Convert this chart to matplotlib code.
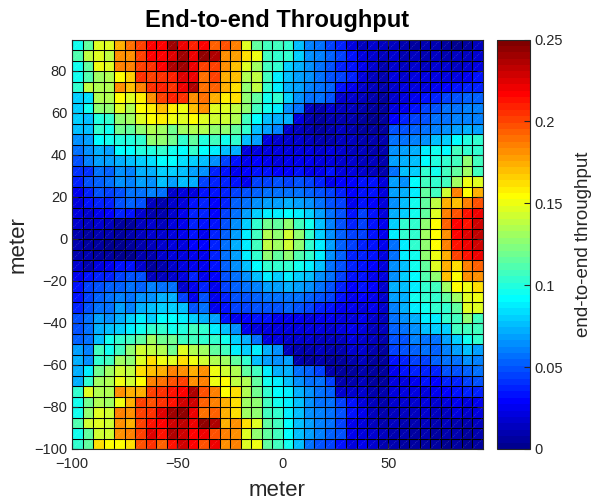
import numpy as np
import matplotlib
matplotlib.use("Agg")
import matplotlib.pyplot as plt
from matplotlib.colors import ListedColormap
from matplotlib.collections import LineCollection

plt.rcParams['font.family'] = ['Liberation Sans', 'DejaVu Sans']

# grid vertices (meters)
x_edges = list(range(-100, 100, 5))
y_edges = list(range(-100, 100, 5))

# throughput values x1000, rows from top (y=90) down to bottom (y=-100),
# columns from x=-100 to x=90 (cell lower-left corners)
throughput_milli = [
    [94,115,145,145,175,190,200,215,215,240,220,210,215, 195,199,187,148,117,109,109,105,78,62,55,43,39, 23,12,16,12,12,8,4,8,8,4,0,4,12],
    [110,140,145,140,180,180,200,215,215,225,240,220,245, 238,180,176,164,152,109,105,102,82,66,62,51,43, 35,23,16,12,16,8,12,8,12,8,12,12,16],
    [95,115,150,145,185,185,200,205,215,235,240,220,200, 200,180,168,145,129,109,102,82,74,66,58,47,39, 35,27,16,8,16,12,16,12,16,16,12,16,23],
    [95,110,130,135,155,165,205,200,205,210,225,220,190, 200,172,168,133,137,109,86,78,70,66,58,47,43, 39,20,12,8,20,16,20,20,20,23,23,27,35],
    [105,140,135,135,180,170,185,205,210,205,220,235,190, 195,172,164,128,137,105,86,74,70,62,55,51,35, 27,16,12,8,16,20,23,23,27,31,35,39,39],
    [80,85,135,135,155,145,160,180,200,210,205,180,190, 172,160,164,128,117,94,105,82,66,58,55,47,16, 16,12,8,4,16,23,27,35,39,43,47,51,51],
    [82,94,125,125,145,135,155,160,170,160,150,170,180, 148,148,137,125,109,94,86,66,58,12,8,16,12, 12,8,4,4,20,27,35,43,47,55,58,62,62],
    [80,78,100,105,125,130,145,155,160,150,145,155,145, 141,141,133,109,90,78,74,74,20,8,5,8,10, 8,4,0,4,31,39,43,47,55,58,62,62,62],
    [78,75,105,95,120,115,125,135,130,120,130,135,135, 125,125,117,105,78,70,62,16,12,8,4,8,12, 8,4,4,4,47,47,51,55,62,66,70,74,70],
    [65,70,90,94,100,98,105,125,125,120,105,115,100, 109,94,105,78,70,23,16,16,16,12,8,8,12, 12,8,8,8,55,55,62,66,78,82,90,98,102],
    [55,65,72,70,90,90,98,98,105,94,90,105,90, 86,78,74,23,20,23,23,20,20,20,16,20,16, 12,12,8,8,66,70,74,86,94,90,109,105,105],
    [47,60,70,68,72,78,80,85,90,90,85,80,78, 66,43,35,27,31,27,23,27,27,27,23,23,16, 16,12,12,8,70,74,78,90,98,102,109,125,109],
    [42,40,55,52,65,60,72,72,80,80,78,70,65, 39,35,27,31,35,35,31,31,35,27,27,35,23, 20,16,12,8,58,78,82,102,94,109,117,129,109],
    [39,47,51,55,66,62,70,66,78,70,78,74,43, 39,39,35,27,43,43,47,43,47,43,39,27,31, 31,35,35,20,70,66,90,109,105,109,129,152,148],
    [27,39,47,43,47,55,58,62,58,16,20,23,35, 35,39,43,47,51,58,55,58,55,51,47,43,39, 31,35,35,20,70,74,86,117,109,141,184,156,172],
    [23,35,39,39,47,51,47,12,8,16,23,35,39, 31,39,51,58,66,70,70,74,70,66,58,47,43, 27,35,31,20,66,78,94,117,137,172,168,187,199],
    [20,16,27,31,39,35,16,8,8,16,27,39,39, 31,43,58,70,82,86,86,90,86,82,70,55,47, 35,43,35,23,74,82,94,117,145,187,199,211,219],
    [16,12,16,12,4,4,12,16,12,23,27,39,35, 35,47,66,82,102,121,117,125,109,94,78,62,47, 39,43,35,27,82,105,105,125,156,195,215,211,230],
    [8,4,8,8,4,8,12,16,16,23,27,35,27, 39,51,70,86,109,133,125,141,125,105,82,66,51, 43,43,35,27,86,105,105,129,156,180,215,223,234],
    [8,4,4,0,0,4,8,12,16,20,23,31,31, 39,55,74,86,109,137,129,141,125,105,86,70,51, 43,39,35,27,58,86,102,125,156,187,211,219,227],
    [8,8,4,4,0,0,8,8,16,20,23,27,27, 39,55,70,86,105,125,117,125,113,102,86,66,51, 39,39,35,23,58,86,94,125,152,172,203,211,219],
    [16,8,23,27,35,35,16,4,8,16,23,27,27, 35,51,66,78,90,105,102,105,94,86,78,58,47, 39,35,31,20,66,78,94,117,145,172,164,184,195],
    [27,35,39,39,43,47,47,12,12,16,23,39,27, 31,47,58,66,78,86,82,86,82,78,66,55,43, 35,35,27,20,66,82,90,113,125,168,156,180,180],
    [35,43,47,51,51,55,51,62,55,58,16,27,39, 27,43,51,55,62,70,70,74,70,66,58,47,39, 31,35,31,16,74,78,86,105,109,129,156,152,164],
    [35,43,51,55,62,58,66,66,74,74,43,27,47, 27,39,47,47,51,58,55,58,55,51,47,43,35, 27,31,27,16,70,74,94,105,102,117,129,148,152],
    [39,47,55,55,70,62,74,78,82,82,78,47,58, 27,35,43,43,47,47,47,51,47,43,39,35,27, 27,23,27,16,62,74,86,94,105,105,117,145,145],
    [47,55,70,66,74,82,86,82,90,90,86,82,74, 70,35,27,31,35,35,27,27,27,23,27,27,23, 23,27,16,12,58,66,74,86,86,102,109,125,109],
    [47,58,74,78,82,86,94,102,102,94,98,109,102, 86,78,66,27,20,23,23,20,20,20,20,16,20, 27,23,12,12,51,58,66,78,82,82,109,109,109],
    [51,58,78,94,102,109,117,129,121,121,109,109,105, 102,94,82,74,58,23,20,16,16,16,12,12,12, 23,16,12,8,47,47,62,55,58,70,82,94,105],
    [70,62,109,94,109,125,141,137,133,121,145,133,129, 117,109,86,82,86,74,66,12,8,8,12,8,8, 16,16,8,4,43,47,51,55,51,62,70,78,70],
    [74,66,105,109,129,125,148,164,152,145,164,152,141, 133,129,117,105,78,70,66,70,8,4,8,4,4, 8,12,4,4,35,39,43,43,51,55,58,66,62],
    [74,86,121,129,141,137,164,168,172,187,180,172,180, 152,141,133,117,109,86,74,74,55,51,43,8,4, 4,8,4,4,27,35,39,39,39,47,47,51,55],
    [74,102,129,133,152,141,156,184,191,199,203,180,187, 152,156,137,133,117,94,86,78,66,58,55,43,8, 8,12,4,4,23,23,27,35,31,39,39,43,47],
    [105,145,133,133,180,172,172,203,207,211,215,238,199, 187,156,164,133,121,105,90,86,74,66,58,51,16, 16,16,8,8,20,20,23,23,27,31,35,39,39],
    [94,121,133,129,152,172,203,199,207,211,227,227,195, 187,172,164,129,125,109,94,86,78,66,58,55,43, 35,23,12,8,16,16,16,20,16,23,27,23,27],
    [94,125,148,141,184,180,203,207,223,242,246,219,191, 195,172,164,129,125,109,102,86,78,66,62,55,47, 35,27,12,8,12,12,12,16,12,12,20,16,23],
    [113,141,145,141,180,172,203,211,215,227,234,219,246, 238,172,180,164,148,117,109,90,78,70,62,58,43, 27,23,12,8,12,8,8,12,8,12,8,8,12],
    [94,117,141,141,180,187,203,223,211,238,230,215,219, 199,187,180,148,125,117,109,90,78,70,62,51,47, 27,23,16,12,8,8,4,8,4,8,8,4,8],
    [105,117,164,156,156,164,199,207,195,211,227,215,199, 219,180,187,148,152,117,109,94,78,58,47,43,35, 23,27,16,8,8,4,4,4,4,0,4,0,4],
]

x_ticks = [-100, -50, 0, 50]
y_ticks = [-100, -80, -60, -40, -20, 0, 20, 40, 60, 80]
cbar_ticks = [0, 0.05, 0.1, 0.15, 0.2, 0.25]
cbar_labels = ['0', '0.05', '0.1', '0.15', '0.2', '0.25']


def matlab_jet(m=64):
    n = int(np.ceil(m / 4))
    u = np.concatenate([np.arange(1, n + 1) / n, np.ones(n - 1), np.arange(n, 0, -1) / n])
    g = int(np.ceil(n / 2)) - (1 if m % 4 == 1 else 0) + np.arange(1, len(u) + 1)
    r = g + n
    b = g - n
    J = np.zeros((m, 3))
    for idx, col in ((r, 0), (g, 1), (b, 2)):
        keep = (idx >= 1) & (idx <= m)
        J[idx[keep] - 1, col] = u[keep]
    return ListedColormap(J)


Z = np.array(throughput_milli, dtype=float)[::-1] / 1000.0

W, H = 591, 504
fig = plt.figure(figsize=(W / 100, H / 100), dpi=100)
ax = fig.add_axes([72 / W, 55 / H, 411 / W, 409.5 / H])

cmap = matlab_jet(64)
mesh = ax.pcolormesh(x_edges, y_edges, Z, cmap=cmap, vmin=0, vmax=0.25,
                     edgecolors='black', linewidth=0.75, antialiased=True,
                     shading='flat')

# faint rendering diagonals inside each face (as in the source rendering)
diag = [[(x_edges[i], y_edges[j]), (x_edges[i + 1], y_edges[j + 1])]
        for i in range(len(x_edges) - 1) for j in range(len(y_edges) - 1)]
ax.add_collection(LineCollection(diag, colors='white', linewidths=0.5,
                                 alpha=0.22, linestyles=(0, (1.5, 1.5))))

ax.set_xlim(-100, 95)
ax.set_ylim(-100, 95)
ax.set_xticks(x_ticks)
ax.set_yticks(y_ticks)
ax.tick_params(direction='in', top=True, right=True, labelsize=10.5, length=4,
               colors='#262626')
ax.tick_params(axis='x', pad=6)
for s in ax.spines.values():
    s.set_color('#262626')
    s.set_linewidth(0.8)
ax.set_title('End-to-end Throughput', fontsize=17, fontweight='bold', pad=9)
ax.set_xlabel('meter', fontsize=16, labelpad=6, color='#262626')
ax.set_ylabel('meter', fontsize=16, labelpad=4, color='#262626')

cax = fig.add_axes([497 / W, 55 / H, 33 / W, 409.5 / H])
cb = fig.colorbar(mesh, cax=cax, ticks=cbar_ticks)
cb.ax.set_yticklabels(cbar_labels)
cb.ax.tick_params(direction='in', labelsize=10.5, length=4, colors='#262626')
cb.outline.set_edgecolor('#262626')
cb.outline.set_linewidth(0.8)
cb.set_label('end-to-end throughput', fontsize=13.5, labelpad=8, color='#262626')

fig.savefig('out.png', dpi=100)
